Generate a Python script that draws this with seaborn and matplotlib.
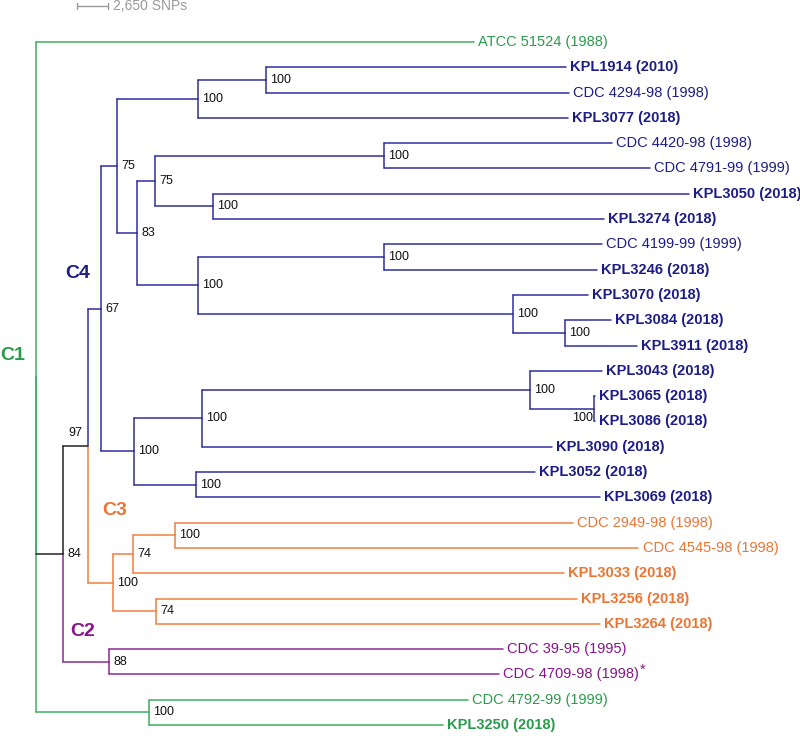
import numpy as np
import pandas as pd
import seaborn as sns
import matplotlib
matplotlib.use("Agg")
import matplotlib.pyplot as plt

# ---------------- data ----------------
leaf_names = ["ATCC 51524", "KPL1914", "CDC 4294-98", "KPL3077", "CDC 4420-98", "CDC 4791-99",
              "KPL3050", "KPL3274", "CDC 4199-99", "KPL3246", "KPL3070", "KPL3084", "KPL3911",
              "KPL3043", "KPL3065", "KPL3086", "KPL3090", "KPL3052", "KPL3069",
              "CDC 2949-98", "CDC 4545-98", "KPL3033", "KPL3256", "KPL3264",
              "CDC 39-95", "CDC 4709-98", "CDC 4792-99", "KPL3250"]
leaf_years = [1988, 2010, 1998, 2018, 1998, 1999, 2018, 2018, 1999, 2018, 2018, 2018, 2018,
              2018, 2018, 2018, 2018, 2018, 2018, 1998, 1998, 2018, 2018, 2018,
              1995, 1998, 1999, 2018]
leaf_clade = ["C1"] + ["C4"] * 18 + ["C3"] * 5 + ["C2"] * 2 + ["C1"] * 2
leaf_note = [""] * 25 + ["*", "", ""]
# distance from root (SNPs)
leaf_depth = [37440, 45280, 45560, 45450, 49210, 52490, 55800, 48550, 48360, 47930, 47210,
              49130, 51400, 48360, 47790, 47790, 44080, 42660, 48210, 45930, 51490, 45160,
              46220, 48210, 39890, 39600, 36950, 34820]
leaf_parent = ["root", "n1914", "n1914", "g1914", "n4420", "n4420", "n3050", "n3050",
               "n4199", "n4199", "n3070", "n3084", "n3084", "n3043", "n3065", "n3065",
               "g3043b", "n3052", "n3052", "n2949", "n2949", "n74a", "n74b", "n74b",
               "C2", "C2", "C1b", "C1b"]

node_ids = ["root", "n84", "n97", "C4", "n75a", "g1914", "n1914", "n83", "n75b", "n4420",
            "n3050", "g4199", "n4199", "n3070", "n3084", "g3043", "g3043b", "n3043", "n3065",
            "n3052", "C3", "n74a", "n2949", "n74b", "C2", "C1b"]
node_parent = [None, "root", "n84", "n97", "C4", "n75a", "g1914", "n75a", "n83", "n75b",
               "n75b", "n83", "g4199", "g4199", "n3070", "C4", "g3043", "g3043b", "n3043",
               "g3043", "n97", "C3", "n74a", "C3", "n84", "root"]
node_depth = [0, 2308, 4445, 5556, 6924, 13848, 19661, 8634, 10173, 29750, 15131, 13848,
              29750, 40776, 45221, 8377, 14190, 42229, 47700, 13677, 6582, 8292, 11882,
              10258, 6240, 9660]
node_support = [None, 84, 97, 67, 75, 100, 100, 83, 75, 100, 100, 100, 100, 100, 100, 100,
                100, 100, 100, 100, 100, 74, 100, 74, 88, 100]
node_clade = ["C1", "base", "base", "C4", "C4", "C4", "C4", "C4", "C4", "C4", "C4", "C4",
              "C4", "C4", "C4", "C4", "C4", "C4", "C4", "C4", "C3", "C3", "C3", "C3", "C2", "C1"]

clade_names = ["C1", "C2", "C3", "C4"]
scale_snps = 2650
scale_label = "2,650 SNPs"

# ---------------- styling ----------------
line_colors = {"C1": "#3fae62", "C2": "#8e2a94", "C3": "#f08040", "C4": "#2f2f9c", "base": "#222222"}
text_colors = {"C1": "#2a9b4c", "C2": "#85168a", "C3": "#ec7533", "C4": "#1d1d88"}

# ---------------- layout ----------------
nodes = {}
for i, n in enumerate(leaf_names):
    nodes["L%d" % i] = dict(depth=leaf_depth[i], parent=leaf_parent[i], clade=leaf_clade[i],
                            y=float(i), children=[])
for j, n in enumerate(node_ids):
    nodes[n] = dict(depth=node_depth[j], parent=node_parent[j], clade=node_clade[j],
                    y=None, children=[])
for k, v in nodes.items():
    if v["parent"] is not None:
        nodes[v["parent"]]["children"].append(k)


def get_y(k):
    v = nodes[k]
    if v["y"] is None:
        ys = [get_y(c) for c in v["children"]]
        v["y"] = (min(ys) + max(ys)) / 2.0
    return v["y"]


for k in nodes:
    get_y(k)

rows = []
for k, v in nodes.items():
    if v["parent"] is None:
        continue
    p = nodes[v["parent"]]
    vclade = v["clade"] if v["clade"] != "base" else p["clade"]
    rows.append(dict(seg=k + "_v", x=p["depth"], y=p["y"], clade=vclade))
    rows.append(dict(seg=k + "_v", x=p["depth"], y=v["y"], clade=vclade))
    rows.append(dict(seg=k + "_h", x=p["depth"], y=v["y"], clade=v["clade"]))
    rows.append(dict(seg=k + "_h", x=v["depth"], y=v["y"], clade=v["clade"]))
edges = pd.DataFrame(rows)

# ---------------- figure ----------------
sns.set_theme(style="white")
plt.rcParams["font.family"] = ["Liberation Sans", "DejaVu Sans"]

fig = plt.figure(figsize=(8.0, 7.36), dpi=100)
ax = fig.add_axes([0, 0, 1, 1])

sns.lineplot(data=edges, x="x", y="y", units="seg", hue="clade", palette=line_colors,
             estimator=None, sort=False, legend=False, linewidth=1.1, ax=ax)

px = 2650 / 31.0          # SNPs per pixel
dy = 25.296               # pixels per leaf
ax.set_xlim(-36 * px, 764 * px)
ax.set_ylim((736 - 42) / dy, -42 / dy)
ax.set_axis_off()

renderer = fig.canvas.get_renderer()

# leaf labels
for i, n in enumerate(leaf_names):
    bold = n.startswith("KPL")
    label = "%s (%d)" % (n, leaf_years[i])
    t = ax.annotate(label, (leaf_depth[i], i), xytext=(3, 0), textcoords="offset points",
                    ha="left", va="center", fontsize=10.5, color=text_colors[leaf_clade[i]],
                    fontweight="bold" if bold else "normal")
    if leaf_note[i]:
        bb = t.get_window_extent(renderer)
        xd = ax.transData.inverted().transform((bb.x1, bb.y1))[0]
        ax.annotate(leaf_note[i], (xd, i), xytext=(0.5, 3.5), textcoords="offset points",
                    ha="left", va="center", fontsize=10.5, color=text_colors[leaf_clade[i]])

# support values
for j, nid in enumerate(node_ids):
    s = node_support[j]
    if s is None:
        continue
    v = nodes[nid]
    if nid == "n97":
        ax.annotate(str(s), (v["depth"], v["y"]), xytext=(-4, 9), textcoords="offset points",
                    ha="right", va="center", fontsize=9, color="#111111")
    elif nid == "n3065":
        ax.annotate(str(s), (v["depth"], v["y"]), xytext=(-1, -6.5), textcoords="offset points",
                    ha="right", va="center", fontsize=9, color="#111111")
    else:
        ax.annotate(str(s), (v["depth"], v["y"]), xytext=(3, 0), textcoords="offset points",
                    ha="left", va="center", fontsize=9, color="#111111")

# clade labels
clade_pos = {"C1": (0, 355), "C4": (65, 273.5), "C3": (102, 510.5), "C2": (70, 631)}
for c in clade_names:
    xp, yp = clade_pos[c]
    ax.text((xp - 36) * px, (yp - 42) / dy, c, ha="left", va="center", fontsize=14,
            fontweight="bold", color=text_colors[c])

# scale bar
sx0 = (77 - 36) * px
sy = (6 - 42) / dy
ax.plot([sx0, sx0 + scale_snps], [sy, sy], color="#999999", lw=1.0)
for xx in (sx0, sx0 + scale_snps):
    ax.plot([xx, xx], [sy - 0.12, sy + 0.12], color="#999999", lw=1.0)
ax.annotate(scale_label, (sx0 + scale_snps, sy), xytext=(3.5, 0), textcoords="offset points",
            ha="left", va="center", fontsize=10, color="#999999")

fig.savefig("out.png", dpi=100)
